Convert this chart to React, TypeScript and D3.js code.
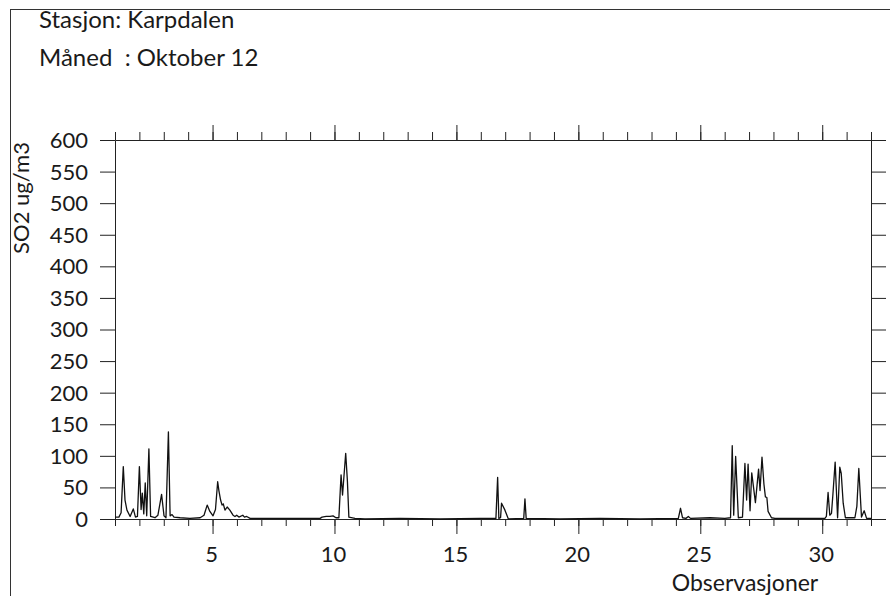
import React, { useEffect, useRef } from "react";
import * as d3 from "d3";

// Observation time (day of month, fractional) and SO2 concentration (ug/m3)
const obsDays = [
  1.0, 1.16, 1.25, 1.34, 1.41, 1.49, 1.62, 1.75, 1.84, 1.92, 2.0, 2.07, 2.12, 2.18, 2.24, 2.3, 2.39, 2.46,
  2.64, 2.76, 2.91, 3.01, 3.09, 3.19, 3.26, 3.34, 3.42, 3.67, 4.07, 4.49, 4.65, 4.78, 4.89, 5.02, 5.12,
  5.21, 5.26, 5.33, 5.39, 5.44, 5.51, 5.6, 5.71, 5.84, 5.92, 5.99, 6.08, 6.24, 6.31, 6.4, 6.54, 6.95,
  7.77, 8.59, 9.41, 9.49, 9.66, 9.82, 9.94, 10.06, 10.18, 10.27, 10.33, 10.46, 10.53, 10.59, 10.84,
  11.25, 12.69, 14.33, 15.97, 16.62, 16.69, 16.74, 16.81, 16.85, 16.99, 17.13, 17.76, 17.81, 17.86,
  19.25, 20.89, 22.53, 24.1, 24.19, 24.27, 24.41, 24.51, 24.6, 25.4, 26.01, 26.24, 26.31, 26.37, 26.45,
  26.56, 26.73, 26.83, 26.9, 26.96, 27.04, 27.11, 27.26, 27.39, 27.45, 27.53, 27.61, 27.67, 27.73,
  27.78, 27.92, 28.06, 29.08, 30.11, 30.17, 30.24, 30.31, 30.38, 30.44, 30.53, 30.63, 30.72, 30.78,
  30.86, 30.95, 31.34, 31.42, 31.5, 31.61, 31.72, 31.82, 32.0,
];
const so2Values = [
  3, 3, 10, 83, 30, 14, 4, 16, 3, 4, 83, 15, 41, 8, 57, 5, 111, 4,
  2, 6, 39, 5, 2, 138, 5, 7, 3, 2, 1, 2, 6, 22, 12, 5, 15,
  59, 45, 30, 22, 24, 14, 19, 14, 6, 4, 6, 3, 6, 3, 4, 1, 1,
  1, 1, 1, 3, 4, 4, 5, 2, 2, 70, 38, 104, 60, 3, 1,
  0, 1, 0, 1, 1, 66, 1, 2, 25, 14, 0, 1, 32, 1,
  0, 1, 0, 1, 17, 2, 1, 4, 1, 2, 1, 2, 116, 6, 99,
  2, 3, 88, 30, 87, 13, 73, 26, 79, 45, 98, 55, 35, 34,
  12, 2, 1, 1, 1, 4, 42, 6, 9, 40, 90, 2, 82, 72,
  25, 2, 2, 20, 80, 3, 13, 1, 1,
];

const yTicks = [0, 50, 100, 150, 200, 250, 300, 350, 400, 450, 500, 550, 600];
const xMinorTicks = [
  1, 2, 3, 4, 5, 6, 7, 8, 9, 10, 11, 12, 13, 14, 15, 16, 17, 18, 19, 20, 21, 22, 23, 24, 25, 26, 27,
  28, 29, 30, 31, 32,
];
const xMajorTicks = [5, 10, 15, 20, 25, 30];

const titleLines = ["Stasjon: Karpdalen", "Måned  : Oktober 12"];
const yLabel = "SO2 ug/m3";
const xLabel = "Observasjoner";

const FONT = "Lato, 'Open Sans', sans-serif";
const INK = "#1a1a1a";

export default function App() {
  const ref = useRef<SVGSVGElement>(null);

  useEffect(() => {
    const svg = d3.select(ref.current);
    svg.selectAll("*").remove();

    const left = 115, right = 871, top = 140, bottom = 519;
    const x = d3.scaleLinear().domain([1, 32]).range([left, right]);
    const y = d3.scaleLinear().domain([0, 600]).range([bottom, top]);

    // page frame lines
    svg.append("line").attr("x1", 10).attr("x2", 890).attr("y1", 9.5).attr("y2", 9.5)
      .attr("stroke", "#333").attr("stroke-width", 1);
    svg.append("line").attr("x1", 10.5).attr("x2", 10.5).attr("y1", 9).attr("y2", 596)
      .attr("stroke", "#333").attr("stroke-width", 1);

    // titles
    titleLines.forEach((t, i) => {
      svg.append("text").attr("x", 39).attr("y", 28 + i * 38)
        .attr("font-family", FONT).attr("font-size", 24).attr("fill", INK)
        .attr("xml:space", "preserve").style("white-space", "pre").text(t);
    });

    const styleAxis = (g: any) => {
      g.selectAll("path").attr("stroke", "#222").attr("stroke-width", 1);
      g.selectAll("line").attr("stroke", "#222").attr("stroke-width", 1);
      g.selectAll("text").remove();
    };

    // bottom axis
    svg.append("g").attr("transform", `translate(0,${bottom})`)
      .call(d3.axisBottom(x).tickValues(xMinorTicks).tickSize(7).tickSizeOuter(0))
      .call(styleAxis);
    svg.append("g").attr("transform", `translate(0,${bottom})`)
      .call(d3.axisBottom(x).tickValues(xMajorTicks).tickSize(15).tickSizeOuter(0))
      .call(styleAxis);
    // top axis
    svg.append("g").attr("transform", `translate(0,${top})`)
      .call(d3.axisTop(x).tickValues(xMinorTicks).tickSize(8).tickSizeOuter(0))
      .call(styleAxis);
    svg.append("g").attr("transform", `translate(0,${top})`)
      .call(d3.axisTop(x).tickValues(xMajorTicks).tickSize(15).tickSizeOuter(0))
      .call(styleAxis);
    // left axis
    svg.append("g").attr("transform", `translate(${left},0)`)
      .call(d3.axisLeft(y).tickValues(yTicks).tickSize(15).tickSizeOuter(0))
      .call(styleAxis);
    // right axis
    svg.append("g").attr("transform", `translate(${right},0)`)
      .call(d3.axisRight(y).tickValues(yTicks).tickSize(15).tickSizeOuter(0))
      .call(styleAxis);

    // y tick labels
    svg.append("g").selectAll("text").data(yTicks).join("text")
      .attr("x", 88).attr("y", (d) => y(d)).attr("dy", "0.36em")
      .attr("text-anchor", "end").attr("font-family", FONT).attr("font-size", 22)
      .attr("fill", INK).text((d) => String(d));

    // x tick labels
    svg.append("g").selectAll("text").data(xMajorTicks).join("text")
      .attr("x", (d) => x(d) - 1).attr("y", 562)
      .attr("text-anchor", "middle").attr("font-family", FONT).attr("font-size", 22)
      .attr("fill", INK).text((d) => String(d));

    // axis titles
    svg.append("text").attr("transform", `translate(29,198) rotate(-90)`)
      .attr("text-anchor", "middle").attr("font-family", FONT).attr("font-size", 22)
      .attr("fill", INK).text(yLabel);
    svg.append("text").attr("x", 745).attr("y", 591)
      .attr("text-anchor", "middle").attr("font-family", FONT).attr("font-size", 23)
      .attr("fill", INK).text(xLabel);

    // data line
    const pts = obsDays.map((d, i) => [d, so2Values[i]] as [number, number]);
    const line = d3.line<[number, number]>().x((d) => x(d[0])).y((d) => y(d[1]));
    svg.append("path").datum(pts).attr("d", line).attr("fill", "none")
      .attr("stroke", "#111").attr("stroke-width", 1.3).attr("stroke-linejoin", "round");
  }, []);

  return (
    <svg ref={ref} width={890} height={596}
      style={{ position: "absolute", left: 0, top: 0, background: "#fff" }} />
  );
}
